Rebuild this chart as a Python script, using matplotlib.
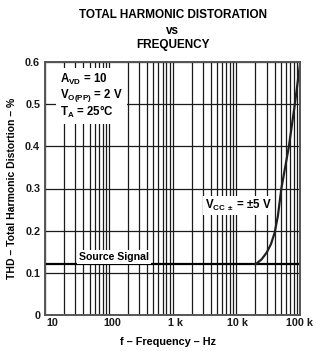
import matplotlib
matplotlib.use("Agg")
import matplotlib.pyplot as plt
from matplotlib.ticker import LogLocator, FixedLocator, NullFormatter
from matplotlib.transforms import ScaledTranslation

plt.rcParams['font.family'] = ['Liberation Sans', 'DejaVu Sans']
plt.rcParams['font.weight'] = 'bold'
plt.rcParams['mathtext.fontset'] = 'custom'
plt.rcParams['mathtext.rm'] = 'Liberation Sans:bold'
plt.rcParams['mathtext.it'] = 'Liberation Sans:bold'
plt.rcParams['mathtext.bf'] = 'Liberation Sans:bold'

# Data
source_freq = [10, 100000]
source_thd = [0.12, 0.12]
curve_freq = [20000, 25000, 30000, 35000, 40000, 45000, 51000, 67000, 83000, 100000]
curve_thd = [0.12, 0.132, 0.148, 0.168, 0.195, 0.235, 0.30, 0.40, 0.50, 0.595]
xticks = [10, 100, 1000, 10000, 100000]
xticklabels = ['10', '100', '1 k', '10 k', '100 k']
yticks = [0, 0.1, 0.2, 0.3, 0.4, 0.5, 0.6]
yticklabels = ['0', '0.1', '0.2', '0.3', '0.4', '0.5', '0.6']

W, H = 334, 351
fig = plt.figure(figsize=(W / 100, H / 100), dpi=100)
ax = fig.add_axes([45 / W, 1 - 315 / H, 255 / W, 253 / H])

ax.set_xscale('log')
ax.set_xlim(10, 100000)
ax.set_ylim(0, 0.6)

ax.plot(source_freq, source_thd, color='black', lw=1.6, zorder=2, solid_capstyle='butt')
ax.plot(curve_freq, curve_thd, color='#202020', lw=1.6, zorder=2)

ax.xaxis.set_major_locator(FixedLocator(xticks))
ax.xaxis.set_minor_locator(LogLocator(base=10, subs=range(2, 10)))
ax.xaxis.set_minor_formatter(NullFormatter())
ax.set_xticklabels(xticklabels)
ax.set_yticks(yticks)
ax.set_yticklabels(yticklabels)
ax.tick_params(which='both', length=0, labelsize=7.8, colors='#1a1a1a')
ax.tick_params(axis='x', pad=2.5)
ax.tick_params(axis='y', pad=3.5)
x_offsets_px = [7, 3.5, 2.5, 1.5, 0]
for lab, dx in zip(ax.get_xticklabels(), x_offsets_px):
    lab.set_fontweight('bold')
    lab.set_transform(lab.get_transform() + ScaledTranslation(dx / 100, 0, fig.dpi_scale_trans))
for lab in ax.get_yticklabels():
    lab.set_fontweight('bold')

ax.set_axisbelow(True)
ax.grid(which='both', axis='x', color='#1a1a1a', lw=0.9)
ax.grid(which='major', axis='y', color='#1a1a1a', lw=0.9)

for s in ax.spines.values():
    s.set_color('#555555')
    s.set_linewidth(1.4)

box = dict(facecolor='white', edgecolor='none', pad=1.5)
ax.text(17.0, 0.577,
        'A$_{\\mathrm{VD}}$ = 10\nV$_{\\mathrm{O(PP)}}$ = 2 V\nT$_{\\mathrm{A}}$ = 25°C',
        fontsize=8.3, fontweight='bold', va='top', ha='left', linespacing=1.0,
        bbox=dict(facecolor='white', edgecolor='none', pad=3), zorder=3)
ax.text(122, 0.138, 'Source Signal', fontsize=7.6, fontweight='bold',
        ha='center', va='center', bbox=box, zorder=3)
ax.text(11000, 0.26, 'V$_{\\mathrm{CC\\,\\pm}}$ = ±5 V', fontsize=8.3, fontweight='bold',
        ha='center', va='center', bbox=box, zorder=3)

fig.text(168 / W, 1 - 342 / H, 'f – Frequency – Hz', fontsize=7.8, fontweight='bold',
         ha='center', va='center')
fig.text(12 / W, 1 - 188 / H, 'THD – Total Harmonic Distortion – %', rotation=90,
         fontsize=7.5, fontweight='bold', ha='center', va='center')

cx = 172.5 / W
fig.text(cx, 1 - 15 / H, 'TOTAL HARMONIC DISTORATION', fontsize=8.5, fontweight='bold',
         ha='center', va='center')
fig.text(cx, 1 - 31 / H, 'vs', fontsize=8.5, fontweight='bold', ha='center', va='center')
fig.text(cx, 1 - 45 / H, 'FREQUENCY', fontsize=8.5, fontweight='bold', ha='center', va='center')

fig.savefig('out.png', dpi=100)
